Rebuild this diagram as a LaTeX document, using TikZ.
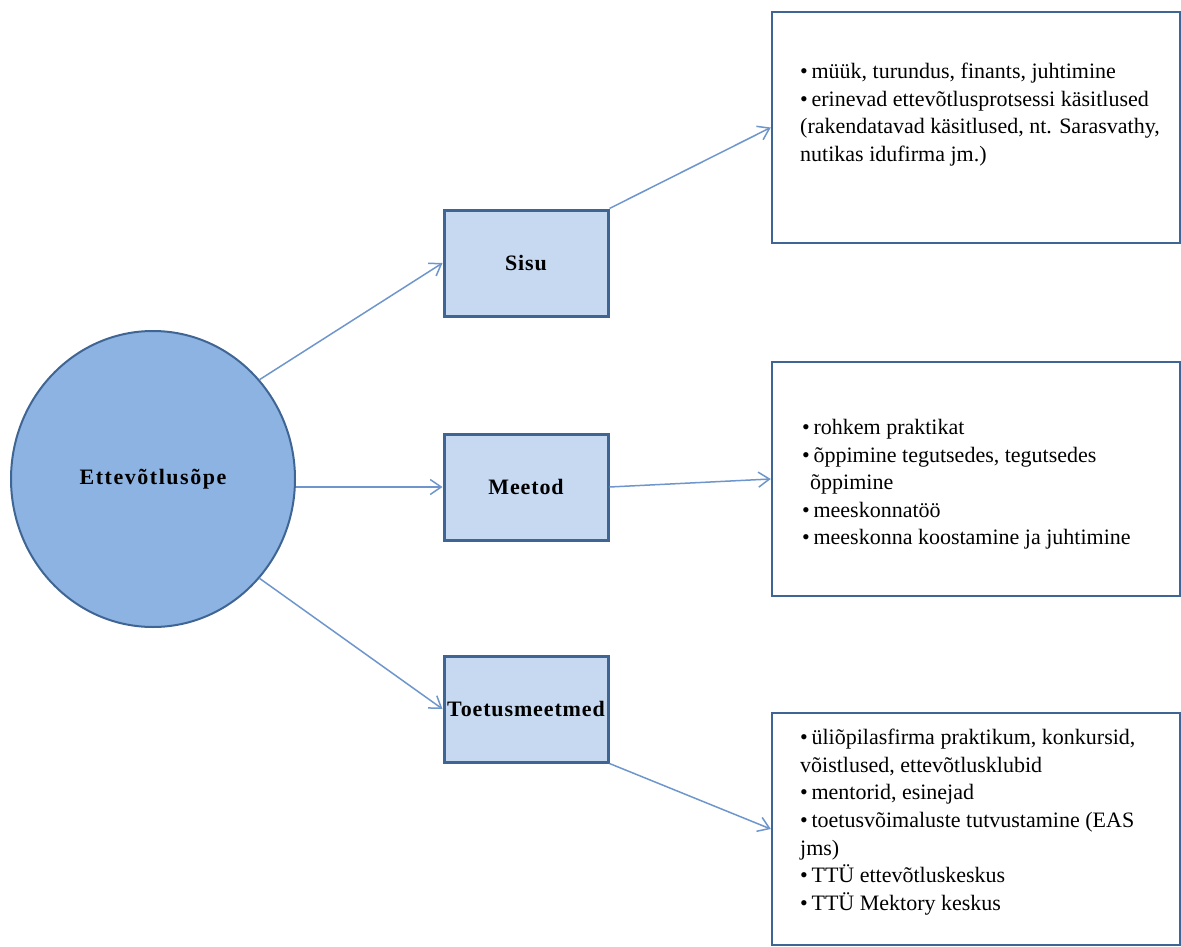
\documentclass[tikz,border=0pt]{standalone}
\usepackage{fontspec}
\setmainfont{Liberation Serif}
\usetikzlibrary{arrows.meta,shapes.geometric}
\definecolor{edge}{HTML}{3F6594}
\definecolor{circfill}{HTML}{8DB3E2}
\definecolor{boxfill}{HTML}{C6D9F1}
\definecolor{arr}{HTML}{6E96CC}
\tikzset{
  hub/.style={ellipse,draw=edge,line width=2pt,fill=circfill,minimum width=284pt,minimum height=296pt,inner sep=0pt,font=\fontsize{22}{26}\selectfont\bfseries\addfontfeatures{LetterSpace=7}},
  midbox/.style={rectangle,draw=edge,line width=3pt,fill=boxfill,minimum width=164pt,minimum height=106pt,inner sep=0pt,font=\fontsize{22}{26}\selectfont\bfseries\addfontfeatures{LetterSpace=4}},
  bigbox/.style={rectangle,draw=edge,line width=2.5pt,fill=white,minimum width=408pt,inner sep=0pt},
  itemtext/.style={anchor=north west,align=left,inner sep=0pt,font=\fontsize{22}{27.6}\selectfont},
  conn/.style={draw=arr,line width=1.5pt,-{Straight Barb[length=11pt,width=15pt,line width=1.5pt]}}
}
\begin{document}
\begin{tikzpicture}[x=1pt,y=-1pt]
\useasboundingbox (0,0) rectangle (1181,947);
\node[hub] (c) at (153,479) {Ettevõtlusõpe};
\node[midbox] (sisu) at (526,263) {Sisu};
\node[midbox] (meetod) at (526,487) {Meetod};
\node[midbox] (toetus) at (526,709) {Toetusmeetmed};
\node[bigbox,minimum height=231pt] (b1) at (976,127.5) {};
\node[bigbox,minimum height=234pt] (b2) at (976,479) {};
\node[bigbox,minimum height=232pt] (b3) at (976,829) {};
\node[itemtext] (t1) at (800,63) {•\,müük, turundus, finants, juhtimine\\
•\,erinevad ettevõtlusprotsessi käsitlused\\
(rakendatavad käsitlused, nt. Sarasvathy,\\
nutikas idufirma jm.)};
\node[itemtext] (t2) at (802,419) {•\,rohkem praktikat\\
•\,õppimine tegutsedes, tegutsedes\\
\hspace*{8pt}õppimine\\
•\,meeskonnatöö\\
•\,meeskonna koostamine ja juhtimine};
\node[itemtext] (t3) at (800,729) {•\,üliõpilasfirma praktikum, konkursid,\\
võistlused, ettevõtlusklubid\\
•\,mentorid, esinejad\\
•\,toetusvõimaluste tutvustamine (EAS\\
jms)\\
•\,TTÜ ettevõtluskeskus\\
•\,TTÜ Mektory keskus};
\draw[conn] (c.43) -- (sisu.west);
\draw[conn] (meetod.west -| c.east) -- (meetod.west);
\draw[conn] (c.-43) -- (toetus.west);
\draw[conn] (sisu.north east) -- (b1.west);
\draw[conn] (meetod.east) -- (b2.west);
\draw[conn] (toetus.south east) -- (b3.west);
\end{tikzpicture}
\end{document}
